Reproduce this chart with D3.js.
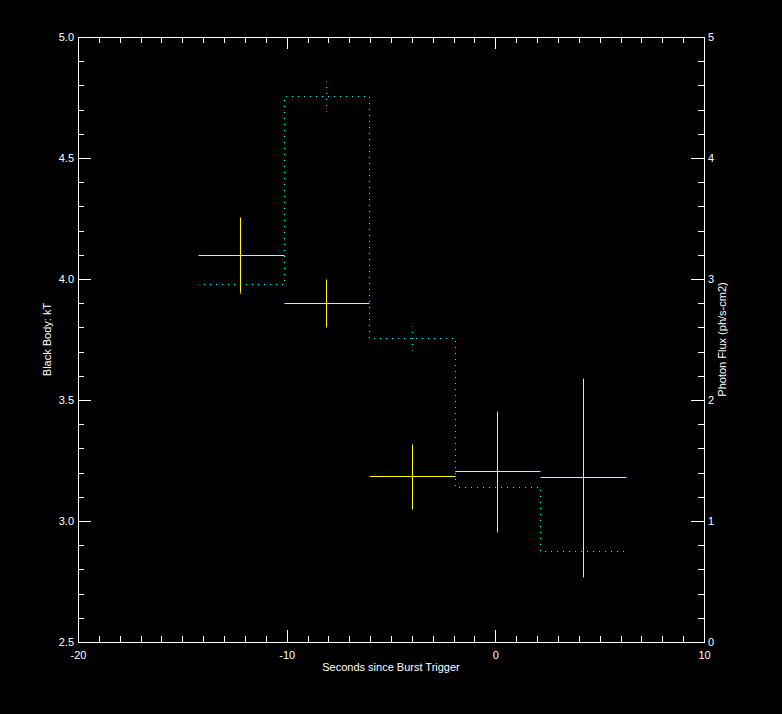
<!DOCTYPE html>
<html>
<head>
<meta charset="utf-8">
<script src="https://cdn.jsdelivr.net/npm/d3@7"></script>
<style>
  body { margin: 0; background: #000; }
  text { font-family: "Liberation Sans", sans-serif; fill: #fff; }
</style>
</head>
<body>
<div id="chart"></div>
<script>
// time bins (seconds since burst trigger)
var binStart  = [-14.25, -10.15, -6.05, -1.95, 2.15];
var binEnd    = [-10.15, -6.05, -1.95, 2.15, 6.25];
var binCenter = [-12.25, -8.1, -4.0, 0.1, 4.2];

// black body temperature (left axis)
var kT    = [4.10, 3.90, 3.185, 3.205, 3.18];
var kTErr = [0.155, 0.10, 0.135, 0.25, 0.41];

// photon flux (right axis)
var flux    = [2.96, 4.51, 2.51, 1.28, 0.75];
var fluxErr = [0.12, 0.125, 0.10, 0.12, 0.15];

// tick values
var xMajor = [-20, -10, 0, 10];
var yMajor = [2.5, 3.0, 3.5, 4.0, 4.5, 5.0];
var y2Major = [0, 1, 2, 3, 4, 5];

var margin = {top: 37, right: 78, bottom: 72, left: 78},
    width = 782 - margin.left - margin.right,
    height = 714 - margin.top - margin.bottom;

var x = d3.scaleLinear().domain([-20, 10]).range([0, width]);
var y = d3.scaleLinear().domain([2.5, 5.0]).range([height, 0]);
var y2 = d3.scaleLinear().domain([0, 5]).range([height, 0]);

// snap to pixel centres so 1px lines and dots stay sharp
var px = function(v) { return Math.round(x(v)) + 0.5; };
var py = function(v) { return Math.round(y(v)) + 0.5; };
var py2 = function(v) { return Math.round(y2(v)) + 0.5; };

var svg = d3.select("#chart").append("svg")
    .attr("width", 782)
    .attr("height", 714)
    .style("background", "#000");

var g = svg.append("g")
    .attr("transform", "translate(" + margin.left + "," + margin.top + ")");

function styleAxis(sel) {
    sel.selectAll("path, line").attr("stroke", "#fff").attr("shape-rendering", "crispEdges");
    sel.selectAll("text").attr("fill", "#fff").style("font-size", "11px")
        .style("font-family", "'Liberation Sans', sans-serif");
}

var xMinor = d3.range(-20, 11, 1).filter(function(d) { return xMajor.indexOf(d) < 0; });
var yMinor = d3.range(0, 26).map(function(i) { return +(2.5 + i * 0.1).toFixed(1); });
var y2Minor = d3.range(0, 26).map(function(i) { return +(i * 0.2).toFixed(1); });

// bottom axis
g.append("g").attr("transform", "translate(0," + height + ")")
    .call(d3.axisBottom(x).tickValues(xMajor).tickSize(-12).tickSizeOuter(0).tickPadding(9)
        .tickFormat(function(d) { return d3.format("d")(d).replace("−", "-"); }))
    .call(styleAxis);
g.append("g").attr("transform", "translate(0," + height + ")")
    .call(d3.axisBottom(x).tickValues(xMinor).tickSize(-6).tickSizeOuter(0).tickFormat(""))
    .call(styleAxis);

// top axis
g.append("g")
    .call(d3.axisTop(x).tickValues(xMajor).tickSize(-12).tickSizeOuter(0).tickFormat(""))
    .call(styleAxis);
g.append("g")
    .call(d3.axisTop(x).tickValues(xMinor).tickSize(-6).tickSizeOuter(0).tickFormat(""))
    .call(styleAxis);

// left axis
g.append("g")
    .call(d3.axisLeft(y).tickValues(yMajor).tickSize(-13).tickSizeOuter(0).tickPadding(4)
        .tickFormat(d3.format(".1f")))
    .call(styleAxis);
g.append("g")
    .call(d3.axisLeft(y).tickValues(yMinor).tickSize(-6).tickSizeOuter(0).tickFormat(""))
    .call(styleAxis);

// right axis
g.append("g").attr("transform", "translate(" + width + ",0)")
    .call(d3.axisRight(y2).tickValues(y2Major).tickSize(-13).tickSizeOuter(0).tickPadding(4)
        .tickFormat(d3.format("d")))
    .call(styleAxis);
g.append("g").attr("transform", "translate(" + width + ",0)")
    .call(d3.axisRight(y2).tickValues(y2Minor).tickSize(-6).tickSizeOuter(0).tickFormat(""))
    .call(styleAxis);

// axis titles
svg.append("text")
    .attr("x", margin.left + width / 2)
    .attr("y", 671)
    .attr("text-anchor", "middle")
    .style("font-size", "11px")
    .text("Seconds since Burst Trigger");

svg.append("text")
    .attr("transform", "translate(51," + (margin.top + height / 2) + ") rotate(-90)")
    .attr("text-anchor", "middle")
    .style("font-size", "11px")
    .text("Black Body: kT");

svg.append("text")
    .attr("transform", "translate(726," + (margin.top + height / 2) + ") rotate(-90)")
    .attr("text-anchor", "middle")
    .style("font-size", "11px")
    .text("Photon Flux (ph/s-cm2)");

// photon flux histogram (dotted cyan)
var steps = [];
flux.forEach(function(f, i) {
    steps.push([binStart[i], f]);
    steps.push([binEnd[i], f]);
});
var line = d3.line()
    .x(function(d) { return px(d[0]); })
    .y(function(d) { return py2(d[1]); });

g.append("path")
    .datum(steps)
    .attr("d", line)
    .attr("fill", "none")
    .attr("stroke", "#00ffff")
    .attr("stroke-width", 1)
    .attr("stroke-dasharray", "1,5")
    .attr("stroke-dashoffset", 0.5);

g.selectAll(".fluxerr")
    .data(flux)
    .enter().append("line")
    .attr("class", "fluxerr")
    .attr("x1", function(d, i) { return px(binCenter[i]); })
    .attr("x2", function(d, i) { return px(binCenter[i]); })
    .attr("y1", function(d, i) { return py2(d + fluxErr[i]); })
    .attr("y2", function(d, i) { return py2(d - fluxErr[i]); })
    .attr("stroke", "#00ffff")
    .attr("stroke-dasharray", "1,5")
    .attr("stroke-dashoffset", 0.5);

// black body kT crosses (yellow)
g.selectAll(".kth")
    .data(kT)
    .enter().append("line")
    .attr("class", "kth")
    .attr("x1", function(d, i) { return px(binStart[i]); })
    .attr("x2", function(d, i) { return px(binEnd[i]); })
    .attr("y1", function(d) { return py(d); })
    .attr("y2", function(d) { return py(d); })
    .attr("stroke", "#ffff00");

g.selectAll(".ktv")
    .data(kT)
    .enter().append("line")
    .attr("class", "ktv")
    .attr("x1", function(d, i) { return px(binCenter[i]); })
    .attr("x2", function(d, i) { return px(binCenter[i]); })
    .attr("y1", function(d, i) { return py(d + kTErr[i]); })
    .attr("y2", function(d, i) { return py(d - kTErr[i]); })
    .attr("stroke", "#ffff00");
</script>
</body>
</html>
